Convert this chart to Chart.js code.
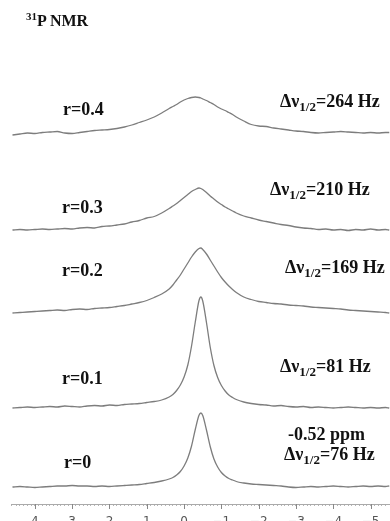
<!DOCTYPE html>
<html>
<head>
<meta charset="utf-8">
<script src="https://cdn.jsdelivr.net/npm/chart.js@4.4.1/dist/chart.umd.min.js"></script>
<style>
  html, body { margin: 0; padding: 0; background: #fff; }
  #wrap { position: relative; width: 390px; height: 521px; overflow: hidden; }
  #c { position: absolute; left: 0; top: 0; }
  .lbl {
    position: absolute; white-space: nowrap; line-height: 1;
    font-family: "Liberation Serif", "DejaVu Serif", serif;
    font-weight: bold; font-size: 18px; color: #111;
  }
  .lbl sub { font-size: 13px; vertical-align: -4px; line-height: 0; }
  .lbl sup { font-size: 11px; vertical-align: 6px; line-height: 0; }
  .ttl { font-size: 16px; }
</style>
</head>
<body>
<div id="wrap">
  <canvas id="c" width="390" height="521"></canvas>
  <div class="lbl ttl" style="left:26px;top:13px"><sup>31</sup>P NMR</div>

  <div class="lbl" style="left:63px;top:100px">r=0.4</div>
  <div class="lbl" style="left:280px;top:92px">&Delta;&nu;<sub>1/2</sub>=264 Hz</div>

  <div class="lbl" style="left:62px;top:198px">r=0.3</div>
  <div class="lbl" style="left:270px;top:180px">&Delta;&nu;<sub>1/2</sub>=210 Hz</div>

  <div class="lbl" style="left:62px;top:261px">r=0.2</div>
  <div class="lbl" style="left:285px;top:258px">&Delta;&nu;<sub>1/2</sub>=169 Hz</div>

  <div class="lbl" style="left:62px;top:369px">r=0.1</div>
  <div class="lbl" style="left:280px;top:357px">&Delta;&nu;<sub>1/2</sub>=81 Hz</div>

  <div class="lbl" style="left:64px;top:453px">r=0</div>
  <div class="lbl" style="left:288px;top:425px">-0.52 ppm</div>
  <div class="lbl" style="left:284px;top:445px">&Delta;&nu;<sub>1/2</sub>=76 Hz</div>
</div>

<script>
'use strict';

// --- Datos ---------------------------------------------------------------
// desplazamiento químico (ppm), eje invertido
const ppm = [
  4.6, 4.4, 4.2, 4.0, 3.8, 3.6, 3.4, 3.2, 3.0, 2.8, 2.6, 2.4, 2.2, 2.0, 1.8, 1.6, 1.4, 1.2, 1.0, 0.8, 0.6, 0.4,
  0.3, 0.2, 0.1, 0.0, -0.1, -0.2, -0.3, -0.4, -0.45,
  -0.5, -0.6, -0.7, -0.8, -0.9, -1.0, -1.1, -1.2, -1.3, -1.4,
  -1.6, -1.8, -2.0, -2.2, -2.4, -2.6, -2.8, -3.0, -3.2, -3.4, -3.6, -3.8, -4.0, -4.2, -4.4, -4.6, -4.8, -5.0, -5.2, -5.4, -5.5
];

// intensidades (unidades arbitrarias sobre la línea base)
const int_r0 = [
  0, 0.5, 0, -0.5, 0, 0.5, 1, 1, 1.5, 1, 1, 0.5, 1, 0.5, 1, 1.5, 2, 2.5, 3.5, 4.5, 6, 8,
  9.5, 12, 15.5, 21, 29, 41, 57.5, 71.7, 74,
  71.5, 57, 40.5, 28, 20, 14.5, 11, 8.5, 7, 5.5,
  4, 3, 2.5, 2, 1.5, 1, 0, -0.5, 0, 0.5, 0, 0.5, 1, 0.5, 0, 0.5, 1, 0.5, 1, 0.5, 1
];
const int_r01 = [
  0, 0.5, 1, 0.5, 1, 1.5, 1, 2, 1.5, 1, 2, 2.5, 2, 3, 2.5, 3.5, 4, 4.5, 5.5, 6.5, 8, 11,
  13.5, 17.5, 23, 31, 43, 62, 86, 107.5, 111,
  107, 85.5, 61, 42.5, 30.5, 22.5, 17, 13, 10.5, 8.5,
  6, 4.5, 3.5, 3, 2, 2.5, 1.5, 1, 1.5, 0.5, 1, 0.5, 0, 0.5, 1, 0.5, 0, 0.5, 0, 0.5, 0
];
const int_r02 = [
  0, 0.5, 1, 1.5, 2, 2.5, 3, 2.5, 3.5, 4, 3.5, 4.5, 5, 5.5, 6.5, 7.5, 9, 10.5, 12.5, 15.5, 19, 24,
  28, 33, 38, 44, 50, 56, 61, 64.5, 65,
  63.5, 59, 53, 47, 41, 35.5, 31, 27, 23.5, 20.5,
  16, 13.5, 11.5, 10.5, 9.5, 9, 8, 7.5, 7, 6, 5.5, 5, 4.5, 4, 3, 2.5, 2, 1.5, 1, 0.5, 0
];
const int_r03 = [
  0, 0.5, 0, 0.5, 1, 0.5, 1, 1.5, 1, 2, 2.5, 2, 3.5, 4, 5, 6, 8, 9.5, 12, 13.5, 17, 21.5,
  24, 26.5, 29.5, 32.5, 35.5, 38.5, 40.5, 42, 41.5,
  40.5, 37.5, 34, 31, 28, 25.5, 23, 21, 19, 17,
  14, 12, 10, 8.5, 7, 5.5, 4.5, 3, 2, 1.5, 0.5, 1, 0, 0.5, -0.5, 0.5, 0, 1, 0, 0.5, 0
];
const int_r04 = [
  0, 1, 2, 1.5, 2.5, 3, 3.5, 2, 1.5, 2.5, 3.5, 4.5, 5, 5.5, 6.5, 8, 10, 12.5, 15, 18, 22, 26.5,
  28.5, 30.5, 33, 35, 36.5, 37.5, 38, 37.5, 37,
  36, 34.5, 32.5, 30.5, 28, 26, 24.5, 22.5, 20.5, 18,
  14, 10.5, 9, 8.5, 7, 6, 5, 4, 3.5, 2.5, 2, 2.5, 3, 3.5, 3, 2.5, 2, 2.5, 2, 2.5, 2.5
];

// desplazamiento vertical de cada espectro (apilado)
const offsets = [17, 96, 191, 274, 369];
const spectra = [int_r0, int_r01, int_r02, int_r03, int_r04];
const sampleNames = ['r=0', 'r=0.1', 'r=0.2', 'r=0.3', 'r=0.4'];

// --- Gráfico -------------------------------------------------------------
const LINE = '#7d7d7d';

const datasets = spectra.map((serie, i) => ({
  label: sampleNames[i],
  data: serie.map((v, k) => ({ x: ppm[k], y: offsets[i] + v })),
  borderColor: LINE,
  borderWidth: 1.3,
  pointRadius: 0,
  fill: false,
  cubicInterpolationMode: 'monotone',
}));

// marcas mayores en los enteros (más largas que las menores)
const majorTicks = {
  id: 'majorTicks',
  afterDraw(chart) {
    const sx = chart.scales.x;
    const ctx = chart.ctx;
    const y0 = chart.chartArea.bottom;
    ctx.save();
    ctx.strokeStyle = '#888';
    ctx.lineWidth = 1;
    for (let v = -5; v <= 4; v++) {
      const px = Math.round(sx.getPixelForValue(v)) + 0.5;
      ctx.beginPath();
      ctx.moveTo(px, y0);
      ctx.lineTo(px, y0 + 5);
      ctx.stroke();
    }
    ctx.restore();
  },
};

const isInt = v => Math.abs(v - Math.round(v)) < 1e-6;

new Chart(document.getElementById('c'), {
  type: 'line',
  data: { datasets },
  options: {
    responsive: false,
    animation: false,
    devicePixelRatio: 1,
    layout: { padding: { left: 11, right: 0, top: 0, bottom: 0 } },
    plugins: { legend: { display: false }, tooltip: { enabled: false } },
    scales: {
      x: {
        type: 'linear',
        reverse: true,
        min: -5.52,
        max: 4.64,
        afterFit: s => { s.height = 17; s.paddingLeft = 0; s.paddingRight = 0; },
        border: { display: true, color: '#aaa', width: 1, dash: [1, 1] },
        grid: {
          drawOnChartArea: false,
          drawTicks: true,
          tickLength: 2,
          tickColor: '#b5b5b5',
        },
        ticks: {
          stepSize: 0.1,
          autoSkip: false,
          maxTicksLimit: 200,
          maxRotation: 0,
          padding: 9,
          color: '#555',
          font: { family: "'DejaVu Sans', sans-serif", size: 12 },
          callback: v => isInt(v) ? String(Math.round(v)).replace('-', '\u2212') : '',
        },
      },
      y: { display: false, min: 0, max: 504 },
    },
  },
  plugins: [majorTicks],
});
</script>
</body>
</html>
